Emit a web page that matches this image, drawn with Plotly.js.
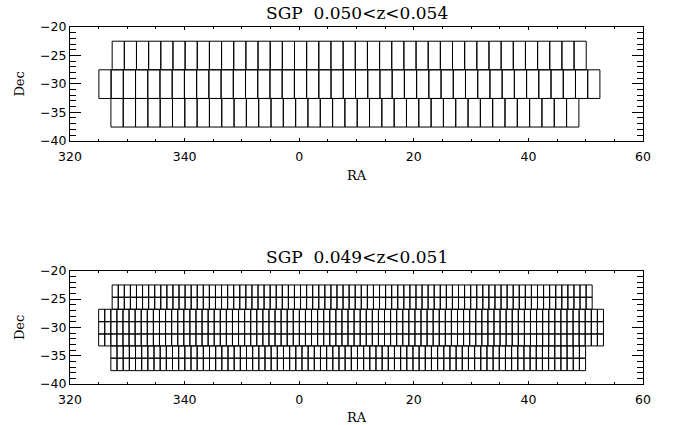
<!DOCTYPE html>
<html>
<head>
<meta charset="utf-8">
<script src="https://cdn.plot.ly/plotly-3.0.1.min.js"></script>
<style>html,body{margin:0;padding:0;background:#fff;}#chart{width:678px;height:425px;}</style>
</head>
<body>
<div id="chart"></div>
<script>
// ---- Data (RA wrapped: 320..360 shown as -40..0) ----
// Panel 1: SGP 0.050<z<0.054  (3 strips of fields)
const p1DecTop  = [-22.50, -27.53, -32.57];
const p1DecBot  = [-27.53, -32.57, -37.60];
const p1RaStart = [-32.64, -34.96, -32.86];
const p1RaEnd   = [50.09, 52.48, 48.81];
const p1Cells   = [39, 41, 38];

// Panel 2: SGP 0.049<z<0.051  (7 strips of fields)
const p2DecTop  = [-22.52, -24.69, -26.81, -29.00, -31.17, -33.28, -35.45];
const p2DecBot  = [-24.69, -26.81, -29.00, -31.17, -33.28, -35.45, -37.64];
const p2RaStart = [-32.64, -32.64, -35.00, -35.00, -35.00, -32.87, -32.87];
const p2RaEnd   = [51.13, 51.13, 53.10, 53.10, 53.10, 49.98, 49.98];
const p2Cells   = [79, 79, 83, 83, 83, 77, 77];

const panelTitles = ['SGP\u00a0 0.050&lt;z&lt;0.054', 'SGP\u00a0 0.049&lt;z&lt;0.051'];
const xTickVals = [-40, -20, 0, 20, 40, 60];
const xTickText = ['320', '340', '0', '20', '40', '60'];
const yTickVals = [-40, -35, -30, -25, -20];
const yTickText = ['\u221240', '\u221235', '\u221230', '\u221225', '\u221220'];

// Build closed rectangle outlines for each field of a strip
function cells(decTop, decBot, raStart, raEnd, n) {
  const xs = [], ys = [];
  for (let r = 0; r < decTop.length; r++) {
    const w = (raEnd[r] - raStart[r]) / n[r];
    for (let k = 0; k < n[r]; k++) {
      const a = raStart[r] + k * w, b = a + w;
      xs.push(a, b, b, a, a, null);
      ys.push(decTop[r], decTop[r], decBot[r], decBot[r], decTop[r], null);
    }
  }
  return {xs, ys};
}

const c1 = cells(p1DecTop, p1DecBot, p1RaStart, p1RaEnd, p1Cells);
const c2 = cells(p2DecTop, p2DecBot, p2RaStart, p2RaEnd, p2Cells);

const lineStyle = {color: '#000', width: 1};
const traces = [
  {x: c1.xs, y: c1.ys, xaxis: 'x', yaxis: 'y', mode: 'lines', line: lineStyle, hoverinfo: 'skip', showlegend: false},
  {x: c2.xs, y: c2.ys, xaxis: 'x2', yaxis: 'y2', mode: 'lines', line: lineStyle, hoverinfo: 'skip', showlegend: false}
];

const tickFont = {family: 'DejaVu Sans, sans-serif', size: 12.5, color: '#000'};
const titleFont = {family: 'DejaVu Serif, serif', size: 13, color: '#000'};

function xAxis(anchor) {
  return {
    anchor: anchor, domain: [0, 1], range: [-40, 60],
    tickvals: xTickVals, ticktext: xTickText,
    ticks: 'inside', ticklen: 3, tickwidth: 1, tickcolor: '#000',
    minor: {dtick: 5, tick0: 0, ticks: 'inside', ticklen: 2, tickcolor: '#000', showgrid: false},
    showline: true, linecolor: '#000', linewidth: 1, mirror: 'allticks',
    showgrid: false, zeroline: false, tickfont: tickFont, ticklabelstandoff: 4,
    title: {text: 'RA', font: titleFont, standoff: 8},
    automargin: false
  };
}
function yAxis(anchor, domain) {
  return {
    anchor: anchor, domain: domain, range: [-40, -20],
    tickvals: yTickVals, ticktext: yTickText,
    ticks: 'inside', ticklen: 11, tickwidth: 1, tickcolor: '#000',
    minor: {dtick: 1, tick0: 0, ticks: 'inside', ticklen: 6, tickcolor: '#000', showgrid: false},
    showline: true, linecolor: '#000', linewidth: 1, mirror: 'allticks',
    showgrid: false, zeroline: false, tickfont: tickFont,
    title: {text: 'Dec', font: titleFont, standoff: 12},
    automargin: false
  };
}

const layout = {
  width: 678, height: 425,
  margin: {l: 70, r: 35, t: 27, b: 41, pad: 0},
  paper_bgcolor: '#fff', plot_bgcolor: '#fff',
  showlegend: false,
  xaxis: xAxis('y'),
  yaxis: yAxis('x', [0.6815, 1]),
  xaxis2: xAxis('y2'),
  yaxis2: yAxis('x2', [0, 0.3174]),
  annotations: [
    {text: panelTitles[0], xref: 'paper', yref: 'y domain', x: 0.5, y: 1, xanchor: 'center', yanchor: 'bottom', yshift: 2, showarrow: false,
     font: {family: 'DejaVu Serif, serif', size: 17, color: '#000'}},
    {text: panelTitles[1], xref: 'paper', yref: 'y2 domain', x: 0.5, y: 1, xanchor: 'center', yanchor: 'bottom', yshift: 2, showarrow: false,
     font: {family: 'DejaVu Serif, serif', size: 17, color: '#000'}}
  ]
};

Plotly.newPlot('chart', traces, layout, {staticPlot: true, displayModeBar: false});
</script>
</body>
</html>
